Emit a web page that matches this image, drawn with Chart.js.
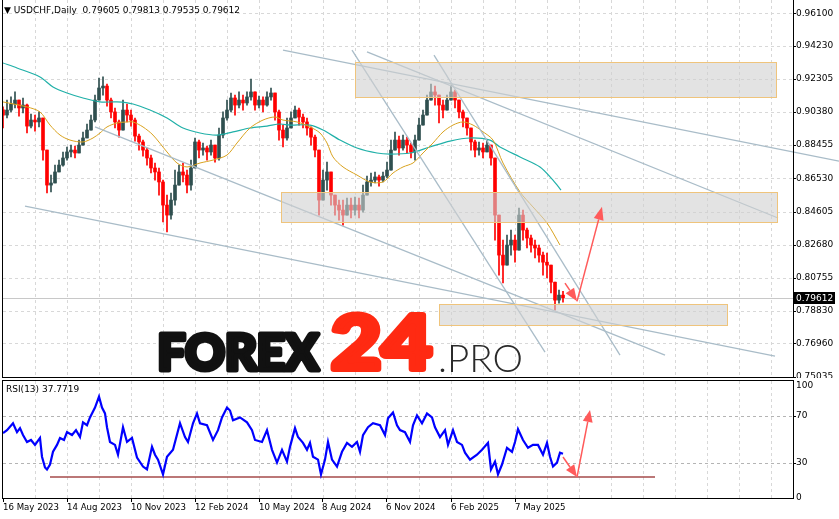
<!DOCTYPE html>
<html><head><meta charset="utf-8">
<script src="https://cdn.jsdelivr.net/npm/chart.js@4.4.1/dist/chart.umd.min.js"></script>
<style>
html,body{margin:0;padding:0;background:#fff;overflow:hidden}
#wrap{position:relative;width:839px;height:519px}
canvas{position:absolute;left:0}
#main{top:0}
#rsi{top:380px}
</style></head><body>
<div id="wrap"><canvas id="main" width="839" height="378"></canvas><canvas id="rsi" width="839" height="139"></canvas></div>
<script>
// ---------------- DATA ----------------
const symbolTitle = 'USDCHF,Daily';
const lastOHLC = [0.79605, 0.79813, 0.79535, 0.79612];
const rsiTitle = 'RSI(13)';
const rsiLast = 37.7719;

const priceTicks = [0.96100,0.94230,0.92305,0.90380,0.88455,0.86530,0.84605,0.82680,0.80755,0.78830,0.76960,0.75035];
const dateTickIdx = [0,64,128,192,256,319,383,448,512];
const dateTickLabels = ['16 May 2023','14 Aug 2023','10 Nov 2023','12 Feb 2024','10 May 2024','8 Aug 2024','6 Nov 2024','6 Feb 2025','7 May 2025'];
const rsiTicks = [0,30,70,100];

const candleStep = 4;          // bars per candle (x index spacing)
const firstOpen = 0.9050;
const closes = [
0.9020,0.9049,0.9084,0.9107,0.9061,0.9078,0.8956,0.8991,0.8980,0.9003,
0.8817,0.8614,0.8626,0.8690,0.8730,0.8771,0.8806,0.8817,0.8800,0.8846,
0.8887,0.8933,0.8991,0.9107,0.9177,0.9188,0.9107,0.9038,0.8980,0.8933,
0.9049,0.9020,0.8991,0.8898,0.8864,0.8817,0.8771,0.8713,0.8690,0.8632,
0.8498,0.8440,0.8527,0.8614,0.8690,0.8672,0.8614,0.8713,0.8864,0.8817,
0.8829,0.8806,0.8846,0.8771,0.8904,0.9003,0.9049,0.9119,0.9078,0.9107,
0.9090,0.9125,0.9154,0.9078,0.9107,0.9078,0.9125,0.9148,0.9038,0.8933,
0.8887,0.8945,0.9003,0.9049,0.9008,0.8980,0.8945,0.8892,0.8817,0.8527,
0.8643,0.8690,0.8556,0.8498,0.8469,0.8440,0.8498,0.8469,0.8498,0.8469,
0.8556,0.8632,0.8643,0.8661,0.8643,0.8666,0.8701,0.8817,0.8875,0.8829,
0.8875,0.8846,0.8806,0.8875,0.8962,0.9020,0.9107,0.9154,0.9136,0.9078,
0.9049,0.9107,0.9154,0.9107,0.9038,0.9003,0.8945,0.8864,0.8817,0.8829,
0.8806,0.8846,0.8771,0.8440,0.8208,0.8150,0.8266,0.8295,0.8237,0.8440,
0.8353,0.8307,0.8266,0.8249,0.8208,0.8167,0.8150,0.8051,0.7947,0.7976,
0.7961];
const highs = [
0.9067,0.9107,0.9125,0.9154,0.9107,0.9119,0.9084,0.9026,0.9020,0.9038,
0.9003,0.8690,0.8672,0.8730,0.8759,0.8806,0.8835,0.8846,0.8840,0.8875,
0.8922,0.8968,0.9020,0.9136,0.9235,0.9241,0.9200,0.9119,0.9061,0.8991,
0.9107,0.9084,0.9049,0.9003,0.8910,0.8875,0.8829,0.8788,0.8742,0.8713,
0.8643,0.8556,0.8568,0.8701,0.8730,0.8742,0.8701,0.8759,0.8887,0.8875,
0.8858,0.8840,0.8875,0.8835,0.8945,0.9038,0.9107,0.9148,0.9136,0.9154,
0.9136,0.9154,0.9229,0.9136,0.9130,0.9125,0.9154,0.9177,0.9136,0.9049,
0.8962,0.9003,0.9038,0.9072,0.9061,0.9026,0.9003,0.8951,0.8904,0.8817,
0.8701,0.8748,0.8672,0.8556,0.8527,0.8527,0.8539,0.8539,0.8545,0.8539,
0.8614,0.8666,0.8684,0.8690,0.8672,0.8690,0.8748,0.8875,0.8922,0.8898,
0.8904,0.8892,0.8858,0.8904,0.9003,0.9049,0.9136,0.9200,0.9188,0.9125,
0.9107,0.9136,0.9194,0.9165,0.9107,0.9049,0.9003,0.8933,0.8875,0.8864,
0.8858,0.8875,0.8846,0.8585,0.8353,0.8295,0.8324,0.8353,0.8324,0.8481,
0.8469,0.8365,0.8324,0.8295,0.8266,0.8225,0.8220,0.8150,0.8005,0.8005,
0.7998];
const lows = [
0.8945,0.9003,0.9038,0.9061,0.9014,0.9032,0.8916,0.8945,0.8927,0.8951,
0.8759,0.8568,0.8574,0.8632,0.8690,0.8724,0.8759,0.8777,0.8771,0.8806,
0.8846,0.8887,0.8945,0.8980,0.9107,0.9136,0.9072,0.9003,0.8945,0.8892,
0.8945,0.8980,0.8956,0.8869,0.8817,0.8782,0.8730,0.8684,0.8643,0.8556,
0.8400,0.8342,0.8417,0.8498,0.8632,0.8632,0.8568,0.8585,0.8730,0.8771,
0.8788,0.8759,0.8788,0.8747,0.8759,0.8887,0.8991,0.9038,0.9020,0.9061,
0.9049,0.9078,0.9107,0.9049,0.9061,0.9038,0.9072,0.9107,0.8991,0.8875,
0.8835,0.8875,0.8945,0.9003,0.8962,0.8945,0.8904,0.8846,0.8777,0.8440,
0.8527,0.8585,0.8498,0.8440,0.8411,0.8382,0.8440,0.8423,0.8440,0.8423,
0.8457,0.8574,0.8608,0.8626,0.8608,0.8632,0.8655,0.8730,0.8817,0.8788,
0.8817,0.8800,0.8771,0.8759,0.8875,0.8962,0.9020,0.9107,0.9078,0.8974,
0.9003,0.9049,0.9107,0.9061,0.9003,0.8951,0.8904,0.8817,0.8777,0.8788,
0.8771,0.8806,0.8730,0.8295,0.8092,0.8046,0.8167,0.8208,0.8167,0.8237,
0.8295,0.8249,0.8225,0.8191,0.8167,0.8092,0.8075,0.7988,0.7889,0.7930,
0.7935];

const maFastIdx = [0,24,37,47,57,67,80,90,97,104,114,124,130,140,150,164,174,184,197,210,224,234,247,260,272,280,294,307,317,324,330,340,354,367,380,390,400,410,420,430,440,450,460,470,479,490,500,517,530,544,557];
const maFastVal = [0.9096,0.9067,0.9038,0.8962,0.8904,0.8875,0.8864,0.8887,0.8916,0.8951,0.8974,0.8980,0.8980,0.8951,0.8904,0.8806,0.8742,0.8719,0.8742,0.8759,0.8788,0.8858,0.8945,0.8991,0.9009,0.8991,0.8980,0.8951,0.8916,0.8858,0.8777,0.8719,0.8672,0.8632,0.8632,0.8684,0.8719,0.8742,0.8800,0.8858,0.8922,0.8962,0.8980,0.8962,0.8927,0.8875,0.8742,0.8574,0.8487,0.8394,0.8266];
const maSlowIdx = [0,14,37,50,64,80,97,114,130,147,164,180,197,214,230,247,264,277,287,307,320,337,354,374,387,407,427,447,467,487,497,517,537,550,558];
const maSlowVal = [0.9322,0.9293,0.9241,0.9183,0.9148,0.9119,0.9096,0.9096,0.9084,0.9049,0.9003,0.8945,0.8916,0.8904,0.8922,0.8945,0.8956,0.8968,0.8962,0.8962,0.8933,0.8875,0.8829,0.8800,0.8794,0.8800,0.8835,0.8869,0.8887,0.8875,0.8835,0.8777,0.8719,0.8643,0.8585];

const rsiIdx = [0,4,10,14,17,20,24,28,32,37,39,42,44,47,50,54,57,61,64,69,73,77,80,84,87,92,96,99,102,104,107,112,115,120,124,129,134,140,144,149,152,155,160,164,170,177,182,185,190,194,197,204,210,215,219,224,227,230,237,244,249,252,259,264,269,274,279,284,287,292,295,300,304,307,310,315,318,322,325,329,334,339,344,349,354,357,360,365,370,377,382,385,390,394,397,402,407,410,414,419,424,429,432,437,442,445,450,454,459,462,467,474,479,485,488,492,495,499,504,509,512,515,520,525,530,535,540,544,547,550,554,557,560];
const rsiVal = [55.5,58.0,63.9,56.3,59.7,53.8,47.9,49.6,45.4,51.3,35.3,26.1,24.4,28.6,39.5,45.4,51.3,49.6,56.3,53.8,58.0,52.1,64.7,62.2,68.9,77.3,86.6,77.3,72.3,60.5,47.9,45.4,37.0,60.5,47.9,51.3,34.5,26.9,24.4,43.7,37.0,32.8,20.2,35.3,41.2,63.9,52.1,47.9,63.9,72.3,63.9,62.2,49.6,58.0,68.9,77.3,74.8,66.4,68.9,64.7,58.0,49.6,47.9,58.0,41.2,30.3,41.2,31.1,43.7,59.7,52.1,47.1,41.2,47.1,35.3,32.8,20.2,32.8,47.9,32.8,26.9,39.5,47.1,43.7,47.9,39.5,53.8,60.5,63.9,62.2,53.8,68.1,73.1,62.2,58.0,56.3,47.9,62.2,70.6,63.9,72.3,68.9,60.5,52.1,58.0,45.4,58.0,47.9,45.4,38.7,32.8,37.0,41.2,47.1,24.4,31.1,20.2,28.6,42.9,39.5,47.9,58.8,49.6,42.9,45.4,45.4,37.0,47.1,35.3,26.9,30.3,38.7,37.8];

// annotations (data coordinates: bar index, price / rsi)
const zones = [[352,773,0.9328,0.9125],[278,774,0.8574,0.8400],[436,724,0.7924,0.7802]];
const trendLines = [[280,0.9397,836,0.8753],[364,0.9386,775,0.8423],[349,0.9397,542,0.7646],[431,0.9368,617,0.7628],[22,0.8492,772,0.7622],[92,0.8951,662,0.7628]];
const mainArrows = [[562,0.8046,574,0.7940],[574,0.7940,599,0.8488]];
const rsiArrows = [[560,35.0,574,17.9],[574,17.9,587,75.2]];
const rsiSupport = [47,652,17.9];

// ---------------- STYLE / LAYOUT ----------------
const X_MAX = 790, Y_MIN = 0.75012, Y_MAX = 0.96871;
const GRID_STEP = 32;
const UPC = '#2f4f4f', DNC = '#ff0000';
const AX_FONT = {family:'DejaVu Sans', size:9};
const DATE_FONT = {family:'DejaVu Sans', size:8.6};
const fontStr = '9px "DejaVu Sans"';
const lastPrice = lastOHLC[3];

const opens = closes.map((c,k)=> k===0 ? firstOpen : closes[k-1]);
const candleX = closes.map((c,k)=> k*candleStep);
const colors = closes.map((c,k)=> c>=opens[k] ? UPC : DNC);
const wickData = closes.map((c,k)=>({x:candleX[k], y:[Math.min(lows[k],opens[k],c), Math.max(highs[k],opens[k],c)]}));
const bodyData = closes.map((c,k)=>({x:candleX[k], y:[opens[k], c]}));

function arrow(ctx,x0,y0,x1,y1,color,L,W){
  const ang=Math.atan2(y1-y0,x1-x0);
  const bx=x1-L*Math.cos(ang), by=y1-L*Math.sin(ang);
  ctx.strokeStyle=color; ctx.fillStyle=color; ctx.lineWidth=1.5;
  ctx.beginPath(); ctx.moveTo(x0,y0); ctx.lineTo(bx,by); ctx.stroke();
  ctx.beginPath(); ctx.moveTo(x1,y1);
  ctx.lineTo(bx+W*Math.sin(ang), by-W*Math.cos(ang));
  ctx.lineTo(bx-W*Math.sin(ang), by+W*Math.cos(ang));
  ctx.closePath(); ctx.fill();
}
function fitText(ctx,txt,x,base,w,font,color,stroke){
  ctx.save(); ctx.font=font; const m=ctx.measureText(txt).width;
  ctx.translate(x+stroke/2,base-stroke/2); ctx.scale((w-stroke)/m,1);
  ctx.fillStyle=color; ctx.strokeStyle=color; ctx.lineJoin='round'; ctx.lineWidth=stroke;
  ctx.textBaseline='alphabetic'; ctx.textAlign='left';
  ctx.fillText(txt,0,0); if(stroke>0) ctx.strokeText(txt,0,0); ctx.restore();
}
function noPad(s){ s.paddingTop=0; s.paddingBottom=0; }

const mainPlugin = {
  id:'mainDeco',
  beforeDatasetsDraw(chart){
    const {ctx, chartArea:a, scales:{x,y}} = chart;
    ctx.save();
    ctx.lineWidth=1; ctx.strokeStyle='#d8d8d8'; ctx.setLineDash([3,3]);
    ctx.beginPath();
    for(let i=GRID_STEP;i<X_MAX;i+=GRID_STEP){const px=Math.round(x.getPixelForValue(i))+0.5; ctx.moveTo(px,a.top); ctx.lineTo(px,a.bottom);}
    priceTicks.forEach(v=>{const py=Math.round(y.getPixelForValue(v))+0.5; ctx.moveTo(a.left,py); ctx.lineTo(a.right,py);});
    ctx.stroke(); ctx.setLineDash([]);
    const by=Math.round(y.getPixelForValue(lastPrice))+0.5;
    ctx.strokeStyle='#c8c8c8'; ctx.beginPath(); ctx.moveTo(a.left,by); ctx.lineTo(a.right,by); ctx.stroke();
    ctx.restore();
  },
  afterDatasetsDraw(chart){
    const {ctx, scales:{x,y}} = chart;
    ctx.save();
    zones.forEach(z=>{
      const x0=Math.round(x.getPixelForValue(z[0]))+0.5, x1=Math.round(x.getPixelForValue(z[1]))+0.5;
      const y0=Math.round(y.getPixelForValue(z[2]))+0.5, y1=Math.round(y.getPixelForValue(z[3]))+0.5;
      ctx.fillStyle='rgba(208,208,208,0.6)'; ctx.fillRect(x0,y0,x1-x0,y1-y0);
      ctx.strokeStyle='#efc47c'; ctx.lineWidth=1; ctx.strokeRect(x0,y0,x1-x0,y1-y0);
    });
    mainArrows.forEach(r=>arrow(ctx,x.getPixelForValue(r[0]),y.getPixelForValue(r[1]),x.getPixelForValue(r[2]),y.getPixelForValue(r[3]),'#ff5a5a',13,5));
    ctx.restore();
  },
  afterDraw(chart){
    const {ctx, chartArea:a, scales:{y}} = chart;
    ctx.save();
    ctx.strokeStyle='#000'; ctx.lineWidth=1; ctx.beginPath();
    ctx.moveTo(2.5,a.top); ctx.lineTo(2.5,a.bottom+0.5);
    ctx.moveTo(2,a.bottom+0.5); ctx.lineTo(a.right+1,a.bottom+0.5);
    ctx.moveTo(a.right+0.5,a.top); ctx.lineTo(a.right+0.5,a.bottom+0.5);
    priceTicks.forEach(v=>{const py=Math.round(y.getPixelForValue(v))+0.5; ctx.moveTo(a.right,py); ctx.lineTo(a.right+3,py);});
    ctx.stroke();
    // last price box
    const py=y.getPixelForValue(lastPrice);
    ctx.fillStyle='#000'; ctx.fillRect(a.right+1,Math.round(py)-6,41,12);
    ctx.fillStyle='#fff'; ctx.font=fontStr; ctx.textBaseline='middle'; ctx.textAlign='left';
    ctx.fillText(lastPrice.toFixed(5),a.right+3,py+0.5);
    // header
    ctx.fillStyle='#000';
    ctx.fillText('\u25BC '+symbolTitle+'  '+lastOHLC.map(v=>v.toFixed(5)).join(' '),4,10.5);
    // watermark
    fitText(ctx,'FOREX',155,372,166,'900 49px Lato','#111111',5);
    fitText(ctx,'24',328,372,107,'900 75px Lato','#ff2a12',6);
    fitText(ctx,'.PRO',438,372,85,'300 37px Lato','#2a2a2a',0);
    ctx.restore();
  }
};

const rsiPlugin = {
  id:'rsiDeco',
  beforeDatasetsDraw(chart){
    const {ctx, chartArea:a, scales:{x,y}} = chart;
    ctx.save(); ctx.lineWidth=1; ctx.setLineDash([3,3]);
    ctx.strokeStyle='#d8d8d8'; ctx.beginPath();
    for(let i=GRID_STEP;i<X_MAX;i+=GRID_STEP){const px=Math.round(x.getPixelForValue(i))+0.5; ctx.moveTo(px,a.top); ctx.lineTo(px,a.bottom);}
    ctx.stroke();
    ctx.strokeStyle='#b4b4b4'; ctx.beginPath();
    [30,70].forEach(v=>{const py=Math.round(y.getPixelForValue(v))+0.5; ctx.moveTo(a.left,py); ctx.lineTo(a.right,py);});
    ctx.stroke(); ctx.restore();
  },
  afterDatasetsDraw(chart){
    const {ctx, scales:{x,y}} = chart;
    ctx.save();
    rsiArrows.forEach(r=>arrow(ctx,x.getPixelForValue(r[0]),y.getPixelForValue(r[1]),x.getPixelForValue(r[2]),y.getPixelForValue(r[3]),'#ff5a5a',12,5));
    ctx.restore();
  },
  afterDraw(chart){
    const {ctx, chartArea:a, scales:{x,y}} = chart;
    ctx.save();
    ctx.strokeStyle='#000'; ctx.lineWidth=1; ctx.beginPath();
    ctx.moveTo(2,a.top-0.5); ctx.lineTo(a.right+1,a.top-0.5);
    ctx.moveTo(2.5,a.top-0.5); ctx.lineTo(2.5,a.bottom+0.5);
    ctx.moveTo(2,a.bottom+0.5); ctx.lineTo(a.right+1,a.bottom+0.5);
    ctx.moveTo(a.right+0.5,a.top-0.5); ctx.lineTo(a.right+0.5,a.bottom+0.5);
    [30,70].forEach(v=>{const py=Math.round(y.getPixelForValue(v))+0.5; ctx.moveTo(a.right,py); ctx.lineTo(a.right+3,py);});
    dateTickIdx.forEach(v=>{const px=Math.round(x.getPixelForValue(v))+0.5; ctx.moveTo(px,a.bottom); ctx.lineTo(px,a.bottom+4);});
    ctx.stroke();
    ctx.fillStyle='#000'; ctx.font=fontStr; ctx.textBaseline='middle'; ctx.textAlign='left';
    rsiTicks.forEach(v=>{
      let py=y.getPixelForValue(v);
      py=Math.max(a.top+5,Math.min(a.bottom+1,py));
      ctx.fillText(String(v),a.right+3,py);
    });
    ctx.fillText(rsiTitle+' '+rsiLast.toFixed(4),6,a.top+8.5);
    ctx.restore();
  }
};

Chart.defaults.font.family='DejaVu Sans';
Chart.defaults.color='#000';

new Chart(document.getElementById('main'),{
  type:'bar',
  data:{datasets:[
    ...trendLines.map(t=>({type:'line',data:[{x:t[0],y:t[1]},{x:t[2],y:t[3]}],borderColor:'#a9bcc8',borderWidth:1.3,pointRadius:0,clip:false,order:1})),
    {type:'line',data:maFastIdx.map((v,k)=>({x:v,y:maFastVal[k]})),borderColor:'#d9a21e',borderWidth:1,pointRadius:0,tension:0.3,order:2},
    {type:'line',data:maSlowIdx.map((v,k)=>({x:v,y:maSlowVal[k]})),borderColor:'#20b0a8',borderWidth:1.2,pointRadius:0,tension:0.3,order:2},
    {type:'bar',data:bodyData,backgroundColor:colors,barThickness:3,grouped:false,minBarLength:1,order:3},
    {type:'bar',data:wickData,backgroundColor:colors,barThickness:1,grouped:false,order:4}
  ]},
  options:{
    responsive:false,animation:false,events:[],
    layout:{padding:{left:3,top:0,right:0,bottom:1}},
    plugins:{legend:{display:false},tooltip:{enabled:false}},
    scales:{
      x:{type:'linear',min:0,max:X_MAX,offset:false,grid:{display:false,drawTicks:false},border:{display:false},ticks:{display:false},afterFit(s){s.height=0;}},
      y:{type:'linear',position:'right',min:Y_MIN,max:Y_MAX,beginAtZero:false,grid:{display:false,drawTicks:false},border:{display:false},
         ticks:{font:AX_FONT,color:'#000',padding:3,callback:v=>Number(v).toFixed(5)},
         afterBuildTicks(s){s.ticks=priceTicks.map(v=>({value:v}));},
         afterFit(s){s.width=46; noPad(s);}}
    }
  },
  plugins:[mainPlugin]
});

new Chart(document.getElementById('rsi'),{
  type:'line',
  data:{datasets:[
    {data:[{x:rsiSupport[0],y:rsiSupport[2]},{x:rsiSupport[1],y:rsiSupport[2]}],borderColor:'#a44a4a',borderWidth:1.5,pointRadius:0,order:2},
    {data:rsiIdx.map((v,k)=>({x:v,y:rsiVal[k]})),borderColor:'#0000ff',borderWidth:2.2,pointRadius:0,tension:0,order:1}
  ]},
  options:{
    responsive:false,animation:false,events:[],
    layout:{padding:{left:3,top:1,right:0,bottom:0}},
    plugins:{legend:{display:false},tooltip:{enabled:false}},
    scales:{
      x:{type:'linear',min:0,max:X_MAX,offset:false,grid:{display:false,drawTicks:false},border:{display:false},
         ticks:{font:DATE_FONT,color:'#000',align:'start',maxRotation:0,minRotation:0,autoSkip:false,padding:5,
                callback:(v,i)=>dateTickLabels[i]},
         afterBuildTicks(s){s.ticks=dateTickIdx.map(v=>({value:v}));},
         afterFit(s){s.height=21; s.paddingLeft=0; s.paddingRight=0;}},
      y:{type:'linear',position:'right',min:0,max:100,grid:{display:false,drawTicks:false},border:{display:false},ticks:{display:false},afterFit(s){s.width=46; noPad(s);}}
    }
  },
  plugins:[rsiPlugin]
});
</script>
</body></html>
